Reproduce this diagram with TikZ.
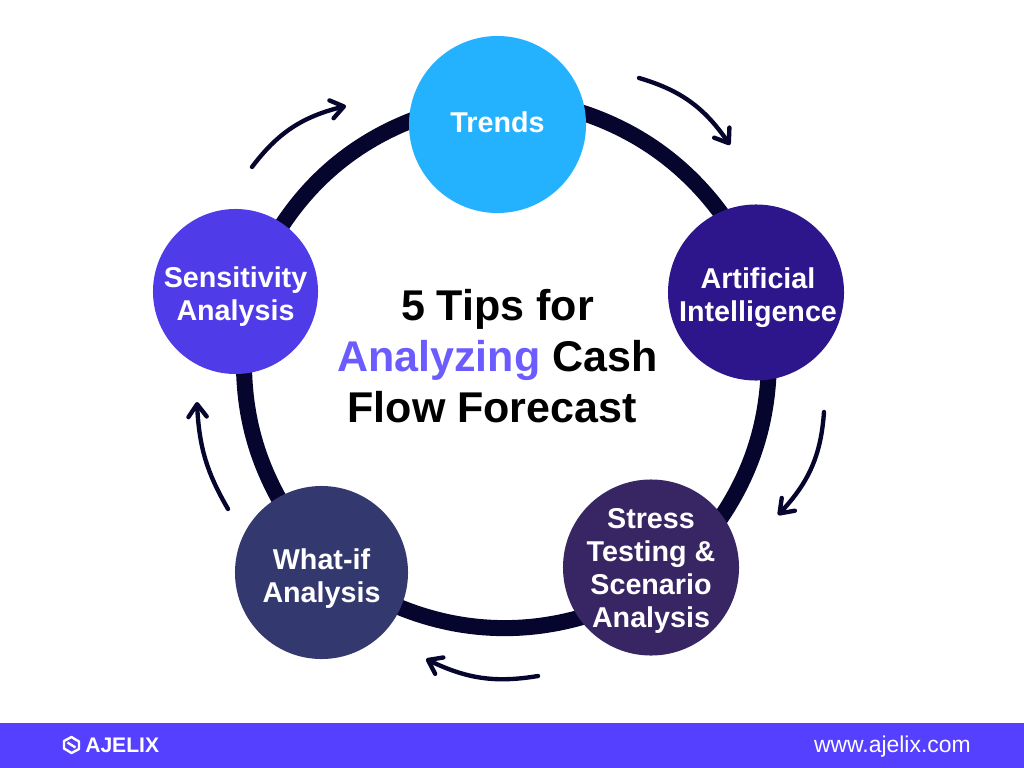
\documentclass[tikz,border=0pt]{standalone}
\usepackage{fontspec}
\setmainfont{Liberation Sans}
\usetikzlibrary{backgrounds,arrows.meta,bending}
\definecolor{ringdark}{HTML}{05052E}
\definecolor{trendblue}{HTML}{24B2FF}
\definecolor{artifviolet}{HTML}{2D168B}
\definecolor{stressplum}{HTML}{382563}
\definecolor{whatifnavy}{HTML}{33386F}
\definecolor{sensviolet}{HTML}{4F3BE8}
\definecolor{accent}{HTML}{6C5CFF}
\definecolor{barviolet}{HTML}{5540FF}

\begin{document}
\begin{tikzpicture}
		[x=0.025cm,y=-0.025cm,
		n/.style= {circle,inner sep=0pt,outer sep=0pt},
		txt/.style= {text=white,align=center,inner sep=0pt,
			font=\bfseries\fontsize{20.4}{23.5}\selectfont},
		seg/.style= {draw=ringdark,line width=11.4pt,shorten >=-3pt,shorten <=-3pt,looseness=0.87},
		turn/.style= {draw=ringdark,line width=3.1pt,line cap=round,
			-{Straight Barb[length=9pt,width=13pt,round,flex=1]}},
		footer/.style= {text=white,inner sep=0pt}]

		\useasboundingbox (0,0) rectangle (1024,768);

		\node[n,fill=trendblue,minimum size=4.425cm,
			label={[txt,name=trendslab,yshift=1.4pt]center:Trends}] (trends) at (497.5,124.5) {};
		\node[n,fill=artifviolet,minimum size=4.4cm,
			label={[txt,name=artiflab,xshift=1.4pt,yshift=-3.5pt]center:Artificial\\Intelligence}] (artif) at (756,292.5) {};
		\node[n,fill=stressplum,minimum size=4.4cm,
			label={[txt,name=stresslab,yshift=-2.5pt]center:Stress\\Testing \&\\Scenario\\Analysis}] (stress) at (651,567.5) {};
		\node[n,fill=whatifnavy,minimum size=4.325cm,
			label={[txt,name=whatiflab,yshift=-4.3pt]center:What-if\\Analysis}] (whatif) at (321.5,572.5) {};
		\node[n,fill=sensviolet,minimum size=4.125cm,
			label={[txt,name=senslab,yshift=-3.5pt]center:Sensitivity\\Analysis}] (sens) at (235.5,291.5) {};

		\node[align=center,inner sep=0pt,font=\bfseries\fontsize{30.6}{36.3}\selectfont] (title) at (497.5,356)
			{5 Tips for\\\textcolor{accent}{Analyzing} Cash\\Flow Forecast\hspace*{0.25em}};

		% ring between the circles
		\begin{scope}[on background layer]
			\path (trends.7.5) edge [seg, bend left=18] (artif.114);
			\path (artif.-82) edge [seg, bend left=15.7] (stress.36);
			\path (stress.215.7) edge [seg, bend left=19.5] (whatif.-24);
			\path (whatif.120) edge [seg, bend left=14] (sens.-84);
			\path (sens.55) edge [seg, bend left=18] (trends.178);
		\end{scope}

		% outer arrows
		\coordinate (a1) at (252,167);
		\coordinate (b1) at (346,106);
		\coordinate (a2) at (639,78);
		\coordinate (b2) at (730,145);
		\coordinate (a3) at (824,412);
		\coordinate (b3) at (778,515);
		\coordinate (a4) at (538,676);
		\coordinate (b4) at (426,659);
		\coordinate (a5) at (228,509);
		\coordinate (b5) at (197,402);
		\path (a1) edge [turn, bend left=20] (b1);
		\path (a2) edge [turn, bend left=20] (b2);
		\path (a3) edge [turn, bend left=20] (b3);
		\path (a4) edge [turn, bend left=18] (b4);
		\path (a5) edge [turn, bend left=14] (b5);

		% footer
		\fill[barviolet] (0,723) rectangle (1024,768);
		\node[footer,anchor=west,font=\bfseries\fontsize{15}{18}\selectfont] (brand) at (85,745.5) {AJELIX};
		\node[footer,anchor=east,font=\fontsize{16.3}{18}\selectfont] (site) at (971,747) {www.ajelix.com};
		\draw[white,line width=1.7pt,line join=round]
			(75.5,739.5) -- (71.5,737) -- (64,741) -- (64,748.5) -- (67.5,750.5)
			(67.5,750.5) -- (71.5,753) -- (79,749) -- (79,741.5) -- (75.5,739.5)
			(67.5,742.5) -- (75.5,747.5);

	\end{tikzpicture}
\end{document}
